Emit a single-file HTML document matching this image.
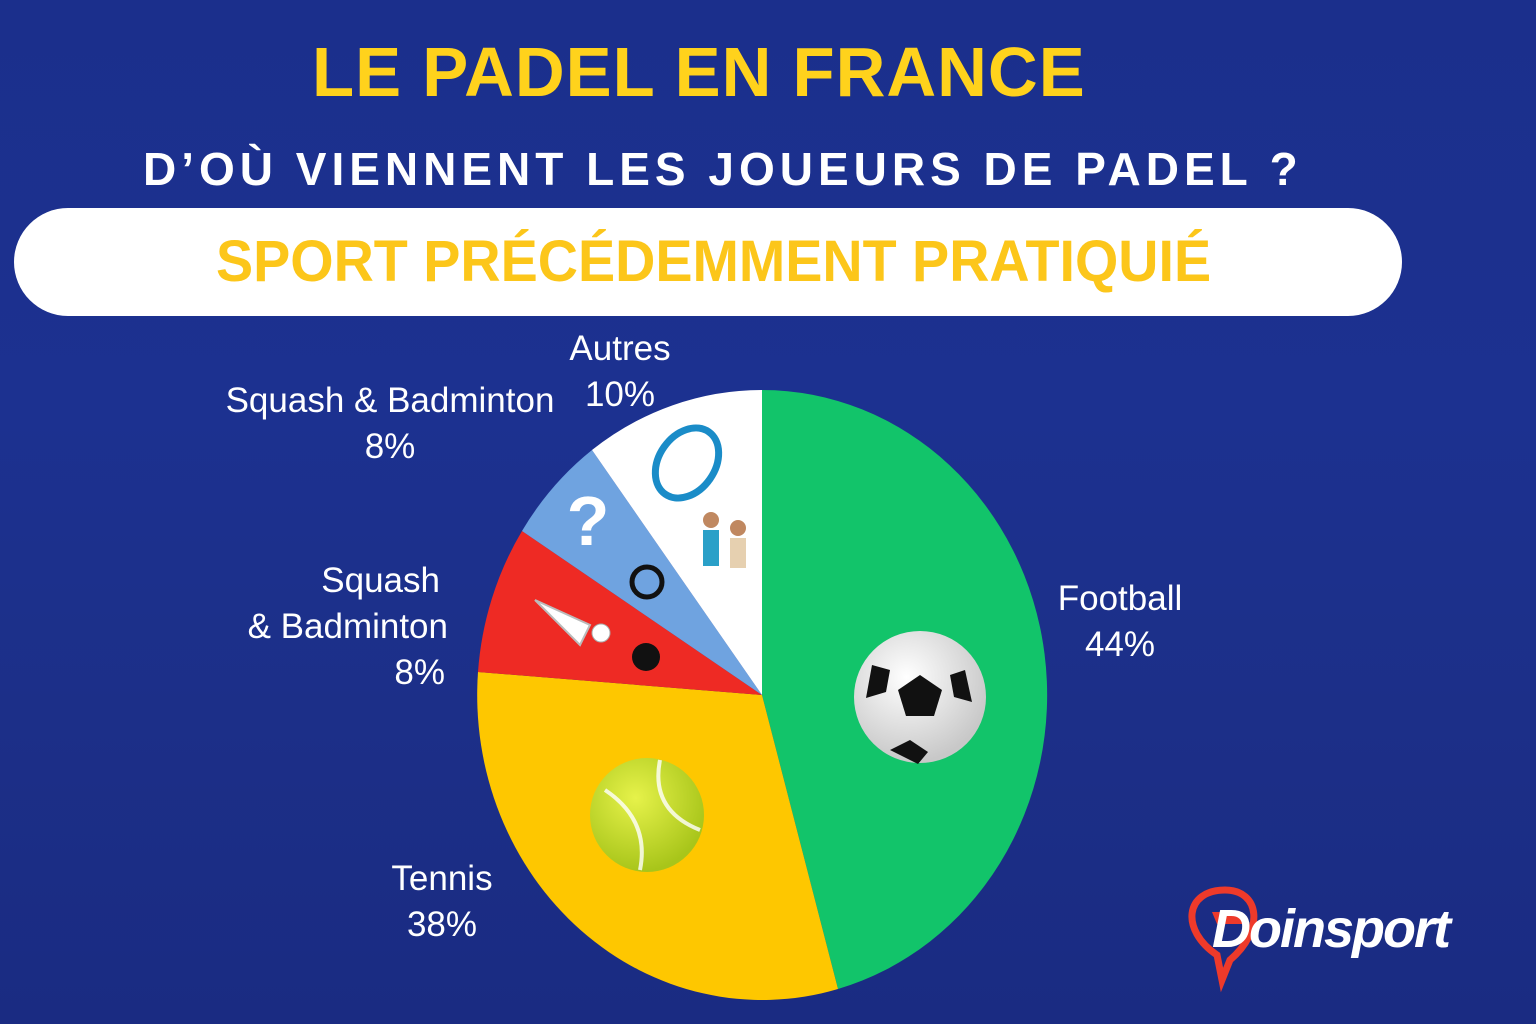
<!DOCTYPE html>
<html><head><meta charset="utf-8"><style>
html,body{margin:0;padding:0}
body{width:1536px;height:1024px;overflow:hidden;position:relative;font-family:"Liberation Sans",sans-serif;
background:linear-gradient(180deg,#1b2f8c 0%,#1c3190 40%,#1c2f88 70%,#1a2b82 100%);}
.t{position:absolute;white-space:nowrap;}
.lbl{position:absolute;color:#fff;font-size:35px;text-align:center;line-height:46px;}
</style></head><body>
<svg width="1536" height="1024" style="position:absolute;left:0;top:0">
<defs>
<radialGradient id="tb" cx="0.4" cy="0.35" r="0.65"><stop offset="0" stop-color="#e6f24a"/><stop offset="1" stop-color="#a8c51a"/></radialGradient>
<radialGradient id="sb" cx="0.4" cy="0.35" r="0.65"><stop offset="0" stop-color="#fff"/><stop offset="1" stop-color="#c8c8c8"/></radialGradient>
</defs>
<g>
<path d="M762,695 L762,390 A285 305 0 0 1 838,989 Z" fill="#12c46a"/>
<path d="M762,695 L838,989 A285 305 0 0 1 478,672 Z" fill="#fec700"/>
<path d="M762,695 L478,672 A285 305 0 0 1 522,531 Z" fill="#ee2a24"/>
<path d="M762,695 L522,531 A285 305 0 0 1 592,450 Z" fill="#6fa3e0"/>
<path d="M762,695 L592,450 A285 305 0 0 1 762,390 Z" fill="#ffffff"/>
</g>
<circle cx="920" cy="697" r="66" fill="url(#sb)"/>
<polygon points="920,675 942,690 934,716 906,716 898,690" fill="#111"/>
<path d="M872,665 l18,5 l-4,22 l-20,6 z M965,670 l-15,5 l4,22 l18,5z M890,750 l20,-10 l18,12 l-10,12z" fill="#111"/>
<circle cx="647" cy="815" r="57" fill="url(#tb)"/>
<path d="M605,790 Q650,820 640,870 M660,760 Q650,810 700,830" stroke="#fff" stroke-width="4" fill="none" opacity="0.8"/>
<ellipse cx="687" cy="463" rx="28" ry="38" transform="rotate(35 687 463)" fill="#fff" stroke="#1a8cc8" stroke-width="7"/>
<circle cx="647" cy="582" r="15" fill="none" stroke="#111" stroke-width="5"/>
<circle cx="646" cy="657" r="14" fill="#111"/>
<path d="M535,600 l55,25 l-10,20 z" fill="#fff" stroke="#bbb" stroke-width="2"/>
<circle cx="601" cy="633" r="9" fill="#fff" stroke="#aaa"/>
<text x="588" y="545" font-size="70" font-weight="bold" fill="#fff" text-anchor="middle" font-family="Liberation Sans">?</text>
<rect x="703" y="530" width="16" height="36" fill="#2aa0c8"/><circle cx="711" cy="520" r="8" fill="#c08860"/>
<rect x="730" y="538" width="16" height="30" fill="#e6d0b0"/><circle cx="738" cy="528" r="8" fill="#c08860"/>
<path d="M1217,955 C1180,930 1185,890 1225,890 C1260,890 1265,930 1230,960 L1222,980 Z" fill="none" stroke="#ee3a2a" stroke-width="7"/>
<path d="M1212,912 l30,0 l5,12 l-30,0z" fill="#ee3a2a"/>
</svg>
<div class="t" style="left:312px;top:32px;color:#ffd21c;font-size:70px;font-weight:bold;letter-spacing:1px;transform:scaleX(0.985);transform-origin:left;">LE PADEL EN FRANCE</div>
<div class="t" style="left:143px;top:142px;color:#fff;font-size:46px;font-weight:bold;letter-spacing:5px;">D’OÙ VIENNENT LES JOUEURS DE PADEL ?</div>
<div style="position:absolute;left:14px;top:208px;width:1388px;height:108px;background:#fff;border-radius:54px;"></div>
<div class="t" style="left:216px;top:228px;color:#fcc61a;font-size:58px;font-weight:bold;transform:scaleX(0.96);transform-origin:left;">SPORT PRÉCÉDEMMENT PRATIQUIÉ</div>
<div class="lbl" style="left:540px;top:326px;width:160px;">Autres<br>10%</div>
<div class="lbl" style="left:200px;top:378px;width:380px;">Squash &amp; Badminton<br>8%</div>
<div class="lbl" style="left:220px;top:558px;width:228px;text-align:right;"><span style="margin-right:8px">Squash</span><br>&amp; Badminton<br><span style="margin-right:3px">8%</span></div>
<div class="lbl" style="left:1040px;top:576px;width:160px;">Football<br>44%</div>
<div class="lbl" style="left:372px;top:856px;width:140px;">Tennis<br>38%</div>
<div class="t" style="left:1212px;top:898px;color:#fff;font-size:54px;font-weight:bold;font-style:italic;letter-spacing:-2px;">Doinsport</div>
</body></html>
